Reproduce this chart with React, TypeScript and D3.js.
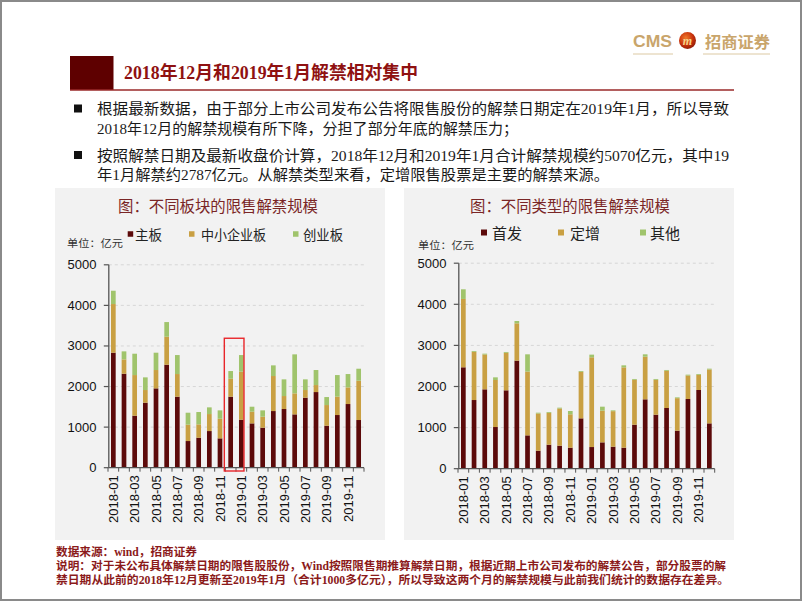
import React from 'react';
import * as d3 from 'd3';

const months = [
  '2018-01','2018-02','2018-03','2018-04','2018-05','2018-06','2018-07','2018-08','2018-09','2018-10','2018-11','2018-12',
  '2019-01','2019-02','2019-03','2019-04','2019-05','2019-06','2019-07','2019-08','2019-09','2019-10','2019-11','2019-12',
];
const yTicks = [0, 1000, 2000, 3000, 4000, 5000];

const boardNames = ['主板', '中小企业板', '创业板'];
const mainBoard = [2834, 2316, 1281, 1602, 1955, 2538, 1750, 657, 739, 903, 723, 1750, 1183, 1092, 986, 1396, 1446, 1314, 1725, 1864, 1035, 1298, 1569, 1175];
const smeBoard = [1199, 353, 1002, 312, 452, 690, 558, 403, 329, 419, 484, 443, 1183, 288, 271, 863, 320, 518, 189, 173, 509, 452, 410, 969];
const gemBoard = [328, 198, 526, 312, 427, 361, 468, 295, 304, 165, 206, 189, 410, 123, 156, 263, 411, 961, 263, 370, 197, 533, 329, 295];

const typeNames = ['首发', '定增', '其他'];
const ipoUnlock = [2467, 1671, 1931, 1014, 1907, 2629, 811, 438, 584, 560, 511, 1225, 527, 641, 535, 511, 1071, 1688, 1314, 1477, 925, 1696, 1915, 1103];
const placementUnlock = [1663, 1173, 848, 1144, 913, 908, 1552, 905, 775, 905, 813, 1132, 2183, 771, 865, 1954, 1092, 1038, 849, 905, 791, 572, 369, 1311];
const otherUnlock = [235, 20, 20, 65, 20, 57, 420, 20, 20, 20, 80, 20, 65, 97, 20, 50, 20, 57, 20, 20, 20, 20, 20, 20];

const seriesColors = ['#5c0a0a', '#c9a043', '#a0c46c'];

const bodyLines = [
  '根据最新数据，由于部分上市公司发布公告将限售股份的解禁日期定在2019年1月，所以导致',
  '2018年12月的解禁规模有所下降，分担了部分年底的解禁压力；',
  '按照解禁日期及最新收盘价计算，2018年12月和2019年1月合计解禁规模约5070亿元，其中19',
  '年1月解禁约2787亿元。从解禁类型来看，定增限售股票是主要的解禁来源。',
];
const footLines = [
  '数据来源：wind，招商证券',
  '说明：对于未公布具体解禁日期的限售股股份，Wind按照限售期推算解禁日期，根据近期上市公司发布的解禁公告，部分股票的解',
  '禁日期从此前的2018年12月更新至2019年1月（合计1000多亿元），所以导致这两个月的解禁规模与此前我们统计的数据存在差异。',
];

const SERIF = "'Liberation Serif','Noto Sans CJK SC',serif";
const SANS = "'Liberation Sans',Arial,sans-serif";
const CJK = "'Noto Sans CJK SC',sans-serif";

type ChartProps = {
  values: number[][];
  names: string[];
  xRange: [number, number];
  yRange: [number, number];
  title: string;
  titleX: number;
  legendSq: number[];
  legendTx: number[];
  legendW: number[];
  legendY: number;
  legendFont: number;
  sq: number;
  unitX: number;
  unitY: number;
  highlight?: boolean;
};

function StackChart(p: ChartProps) {
  const x = d3.scaleBand<string>().domain(months).range(p.xRange).paddingInner(0.56).paddingOuter(0.28);
  const y = d3.scaleLinear().domain([0, 5000]).range(p.yRange);
  const rows = months.map((m, i) => ({ m, s0: p.values[0][i], s1: p.values[1][i], s2: p.values[2][i] }));
  const stacked = d3.stack<any>().keys(['s0', 's1', 's2'])(rows);
  const axisX = p.xRange[0] + 0.8;
  const y0 = y(0);
  const step = x.step();
  const bounds = months.map((m) => (x(m) as number) - step * 0.28).concat([p.xRange[1]]);
  return (
    <g>
      <text x={p.titleX} y={205} textAnchor="middle" dominantBaseline="central" fontFamily={CJK} fontSize={15.5}
        fill="#7a2626" textLength={200} lengthAdjust="spacingAndGlyphs">{p.title}</text>
      {p.names.map((n, i) => (
        <g key={n}>
          <rect x={p.legendSq[i]} y={p.legendY - p.sq / 2} width={p.sq} height={p.sq} fill={seriesColors[i]} />
          <text x={p.legendTx[i]} y={p.legendY} dominantBaseline="central" fontFamily={CJK} fontSize={p.legendFont}
            fill="#222" textLength={p.legendW[i]} lengthAdjust="spacingAndGlyphs">{n}</text>
        </g>
      ))}
      <text x={p.unitX} y={p.unitY} dominantBaseline="central" fontFamily={CJK} fontSize={10.5} fill="#333"
        textLength={56} lengthAdjust="spacingAndGlyphs">单位：亿元</text>
      {yTicks.filter((t) => t > 0).map((t) => (
        <line key={'g' + t} x1={axisX} x2={p.xRange[1] + 1} y1={y(t)} y2={y(t)} stroke="#d6d6d6" strokeWidth={1} strokeDasharray="3,3" />
      ))}
      {stacked.map((s, si) => (
        <g key={si} fill={seriesColors[si]}>
          {s.map((d: any, i: number) => (
            <rect key={i} x={x(months[i])} width={x.bandwidth()} y={y(d[1])} height={Math.max(0, y(d[0]) - y(d[1]))} />
          ))}
        </g>
      ))}
      <line x1={axisX} x2={axisX} y1={y(5000)} y2={y0} stroke="#555" strokeWidth={1.3} />
      <line x1={axisX} x2={p.xRange[1]} y1={y0} y2={y0} stroke="#555" strokeWidth={1.3} />
      {yTicks.map((t) => (
        <g key={'t' + t}>
          <line x1={axisX - 5} x2={axisX} y1={y(t)} y2={y(t)} stroke="#555" strokeWidth={1.2} />
          <text x={axisX - 12.3} y={y(t)} textAnchor="end" dominantBaseline="central" fontFamily={SANS} fontSize={13} fill="#111">{t}</text>
        </g>
      ))}
      {bounds.map((b, i) => (
        <line key={'xb' + i} x1={b} x2={b} y1={y0} y2={y0 + 4} stroke="#555" strokeWidth={1} />
      ))}
      {months.filter((_, i) => i % 2 === 0).map((m) => (
        <text key={m} transform={`translate(${(x(m) as number) + x.bandwidth() / 2},${y0 + 7.5}) rotate(-90)`} textAnchor="end"
          dominantBaseline="central" fontFamily={SANS} fontSize={13} fill="#111">{m}</text>
      ))}
      {p.highlight && (
        <rect x={(x(months[11]) as number) - 4} y={y(3190)} width={(x(months[12]) as number) + x.bandwidth() + 0.3 - ((x(months[11]) as number) - 4)}
          height={y0 + 3.3 - y(3190)} fill="none" stroke="#e8262a" strokeWidth={1.4} />
      )}
    </g>
  );
}

export default function App() {
  return (
    <svg width={802} height={602} style={{ position: 'fixed', left: 0, top: 0, display: 'block', background: '#fff' }}>
      <rect x={0} y={0} width={802} height={602} fill="#fff" />
      <rect x={1} y={1} width={800} height={599} fill="none" stroke="#8a8a8a" strokeWidth={2} />
      <defs>
        <radialGradient id="lg" cx="40%" cy="35%" r="70%">
          <stop offset="0%" stopColor="#f07a2a" />
          <stop offset="60%" stopColor="#c8320c" />
          <stop offset="100%" stopColor="#8a1a06" />
        </radialGradient>
      </defs>
      <text x={633} y={41} dominantBaseline="central" fontFamily={SANS} fontWeight="bold" fontSize={16.5} fill="#c9a56b"
        textLength={39} lengthAdjust="spacingAndGlyphs">CMS</text>
      <circle cx={687.5} cy={40.5} r={8.5} fill="url(#lg)" />
      <text x={687.5} y={41} textAnchor="middle" dominantBaseline="central" fontFamily={SERIF} fontStyle="italic" fontWeight="bold"
        fontSize={12} fill="#f6d48a">m</text>
      <text x={705} y={41} dominantBaseline="central" fontFamily={CJK} fontWeight="bold" fontSize={15.5} fill="#c9a56b"
        textLength={65} lengthAdjust="spacingAndGlyphs">招商证券</text>
      <line x1={633} x2={673} y1={54} y2={54} stroke="#dcc9a3" strokeWidth={1} />
      <line x1={703} x2={770} y1={54} y2={54} stroke="#dcc9a3" strokeWidth={1} />
      <rect x={70} y={56} width={43.5} height={34} fill="#5e0000" />
      <line x1={70} x2={734} y1={90} y2={90} stroke="#9a2a2a" strokeWidth={1.5} />
      <text x={124} y={72.5} dominantBaseline="central" fontFamily={SERIF} fontWeight="bold" fontSize={18} fill="#8f1111"
        textLength={294} lengthAdjust="spacingAndGlyphs">2018年12月和2019年1月解禁相对集中</text>
      <rect x={74} y={104.5} width={8} height={8} fill="#111" />
      <rect x={74} y={151} width={8} height={8} fill="#111" />
      {bodyLines.map((t, i) => (
        <text key={i} x={97} y={[109, 128.5, 155.5, 175][i]} dominantBaseline="central" fontFamily={SERIF} fontSize={15} fill="#1a1a1a"
          textLength={[632, 421, 632, 512][i]} lengthAdjust="spacingAndGlyphs">{t}</text>
      ))}
      <rect x={55} y={188} width={330} height={352} fill="#f2f2f2" />
      <rect x={404} y={188} width={330} height={352} fill="#f2f2f2" />
      <StackChart values={[mainBoard, smeBoard, gemBoard]} names={boardNames} xRange={[108, 364]} yRange={[467.7, 264.8]}
        title="图：不同板块的限售解禁规模" titleX={218} legendSq={[127.7, 189, 293]} legendTx={[135, 201, 303]} legendW={[27, 65, 40]}
        legendY={234} legendFont={13.5} sq={5.5} unitX={67} unitY={242} highlight />
      <StackChart values={[ipoUnlock, placementUnlock, otherUnlock]} names={typeNames} xRange={[458, 714.7]} yRange={[468.7, 263.2]}
        title="图：不同类型的限售解禁规模" titleX={570} legendSq={[481, 558, 640]} legendTx={[492, 570, 650]} legendW={[30, 30, 30]}
        legendY={232.5} legendFont={15} sq={6} unitX={418} unitY={244} />
      {footLines.map((t, i) => (
        <text key={i} x={56} y={[552, 566, 580][i]} dominantBaseline="central" fontFamily={SERIF} fontWeight="bold" fontSize={11.5}
          fill="#8b1a1a" textLength={[141, 670, 673][i]} lengthAdjust="spacingAndGlyphs">{t}</text>
      ))}
    </svg>
  );
}
